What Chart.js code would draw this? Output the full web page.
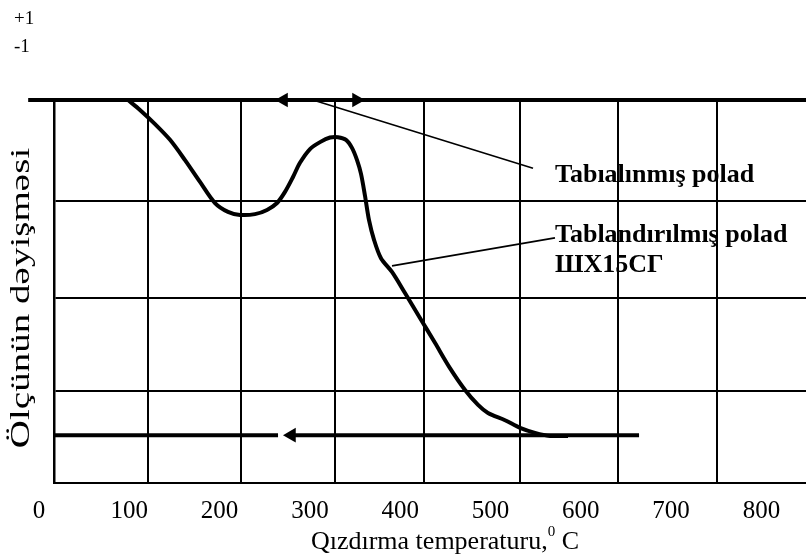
<!DOCTYPE html>
<html>
<head>
<meta charset="utf-8">
<script src="https://cdn.jsdelivr.net/npm/chart.js@4.4.1/dist/chart.umd.min.js"></script>
<style>
    html, body { margin: 0; padding: 0; background: #fff; }
    #wrap { position: relative; width: 806px; height: 559px; font-family: "Liberation Serif", "Times New Roman", serif; color: #000; }
    #chart { position: absolute; left: 0; top: 0; }
    .txt { position: absolute; white-space: nowrap; line-height: 1; }
    #plus { left: 14px; top: 8px; font-size: 19px; }
    #minus { left: 14px; top: 36px; font-size: 19px; }
    #xtitle { left: 445px; top: 528px; font-size: 26px; transform: translateX(-50%); }
    #xtitle sup { font-size: 15px; position: relative; top: -4px; vertical-align: top; }
    #ytitle { left: 20px; top: 298px; font-size: 28px; }
</style>
</head>
<body>
<div id="wrap">
    <canvas id="chart" width="806" height="559"></canvas>
    <div class="txt" id="plus">+1</div>
    <div class="txt" id="minus">-1</div>
    <div class="txt" id="xtitle">Qızdırma temperaturu,<sup>0</sup> C</div>
    <div class="txt" id="ytitle">Ölçünün dəyişməsi</div>
</div>
<script>
// x axis labels and where the hand-drawn grid lines sit (in degrees)
const xTicks = [0, 100, 200, 300, 400, 500, 600, 700, 800];
const xTickLabels = ['0', '100', '200', '300', '400', '500', '600', '700', '800'];
const xGrid = [120.7, 223.7, 327.8, 426.4, 532.7, 641.2, 750.8];
const yGrid = [24, 48.3, 73.6];
const xMin = 16.6;
const xMax = 849.4;

// size change curve
const curveX = [98.6, 111.8, 128.5, 145.1, 161.7, 178.3, 194.9, 209.3, 222.6, 239.2,
    252.5, 263.6, 272.4, 281.3, 289.0, 300.1, 311.2, 322.3, 331.1, 340.0,
    346.6, 352.2, 356.6, 361.0, 365.4, 371.0, 378.7, 390.9, 405.3, 421.9,
    438.5, 455.1, 471.8, 486.2, 497.2, 516.1, 532.7, 549.3, 565.9, 585.8];
const curveY = [100, 97.4, 93.7, 89.6, 84.3, 78.6, 73.1, 70.8, 70.0, 70.2,
    71.3, 73.1, 76.0, 79.9, 83.6, 87.2, 89.0, 90.2, 90.3, 89.6,
    87.5, 84.3, 80.7, 75.0, 68.7, 63.5, 58.7, 55.1, 49.6, 43.1,
    36.6, 30.0, 24.3, 20.4, 18.3, 16.4, 14.4, 13.1, 12.3, 12.3];

// heating (top) and cooling (bottom) lines
const heatX = [-12, 849.4];
const heatY = [100, 100];
const coolX1 = [16.6, 264.7];
const coolX2 = [280, 664.5];
const coolY = [12.5, 12.5];

// arrow heads
const arrowX = [270.8, 351.6, 279.6];
const arrowY = [100, 100, 12.5];
const arrowRot = [270, 90, 270];

// leader lines to the notes
const lead1X = [303.4, 547.1];
const lead1Y = [100, 82.2];
const lead2X = [390.9, 571.4];
const lead2Y = [56.7, 64.0];

const noteText = ['Tabıalınmış polad', 'Tablandırılmış polad', 'ШХ15СГ'];
const noteX = [571.4, 571.4, 571.4];
const noteY = [78.6, 62.9, 55.1];

const pts = (xs, ys) => xs.map((x, i) => ({ x: x, y: ys[i] }));

const lineSet = (xs, ys, width, tension) => ({
    data: pts(xs, ys),
    borderColor: '#000',
    borderWidth: width,
    pointRadius: 0,
    tension: tension || 0,
    clip: false,
    xAxisID: 'x',
    yAxisID: 'y'
});

const noteLabels = {
    id: 'noteLabels',
    afterDatasetsDraw(chart) {
        const ctx = chart.ctx;
        const sx = chart.scales.x;
        const sy = chart.scales.y;
        ctx.save();
        ctx.fillStyle = '#000';
        ctx.font = 'bold 26px "Liberation Serif"';
        ctx.textAlign = 'left';
        ctx.textBaseline = 'alphabetic';
        noteText.forEach((t, i) => {
            ctx.fillText(t, sx.getPixelForValue(noteX[i]), sy.getPixelForValue(noteY[i]));
        });
        ctx.restore();
    }
};

new Chart(document.getElementById('chart'), {
    type: 'line',
    data: {
        datasets: [
            lineSet(heatX, heatY, 4),
            lineSet(coolX1, coolY, 4),
            lineSet(coolX2, coolY, 4),
            lineSet(curveX, curveY, 4, 0.3),
            lineSet(lead1X, lead1Y, 1.6),
            lineSet(lead2X, lead2Y, 1.6),
            {
                data: pts(arrowX, arrowY),
                showLine: false,
                pointStyle: 'triangle',
                pointRotation: arrowRot,
                pointRadius: 8.5,
                pointBackgroundColor: '#000',
                pointBorderWidth: 0,
                clip: false,
                xAxisID: 'x',
                yAxisID: 'y'
            }
        ]
    },
    options: {
        responsive: false,
        animation: false,
        events: [],
        layout: { padding: { left: 54, top: 100, right: 0, bottom: 0 }, autoPadding: false },
        plugins: { legend: { display: false }, tooltip: { enabled: false } },
        scales: {
            x: {
                type: 'linear', min: xMin, max: xMax, position: 'bottom', bounds: 'data',
                afterFit: s => { s.height = 76; },
                afterBuildTicks: s => { s.ticks = xTicks.map(v => ({ value: v })); },
                grid: { display: false },
                border: { display: true, color: '#000', width: 2 },
                ticks: {
                    autoSkip: false, maxRotation: 0, padding: 5, color: '#000',
                    font: { family: 'Liberation Serif', size: 25 },
                    callback: v => xTickLabels[xTicks.indexOf(v)]
                }
            },
            xg: {
                type: 'linear', min: xMin, max: xMax, position: 'top', bounds: 'data',
                afterFit: s => { s.height = 0; },
                afterBuildTicks: s => { s.ticks = xGrid.map(v => ({ value: v })); },
                ticks: { display: false },
                border: { display: false },
                grid: { color: '#000', lineWidth: 2, drawTicks: false }
            },
            y: {
                type: 'linear', min: 0, max: 100, bounds: 'data',
                afterFit: s => { s.width = 0; },
                afterBuildTicks: s => { s.ticks = yGrid.map(v => ({ value: v })); },
                ticks: { display: false },
                border: { display: true, color: '#000', width: 2.5 },
                grid: { color: '#000', lineWidth: 2, drawTicks: false }
            }
        }
    },
    plugins: [noteLabels]
});

// stretch the vertical title along its length, as in the original figure
const yt = document.getElementById('ytitle');
const k = 300 / yt.offsetWidth;
yt.style.transform = 'translate(-50%, -50%) rotate(-90deg) scaleX(' + k.toFixed(3) + ')';
</script>
</body>
</html>
